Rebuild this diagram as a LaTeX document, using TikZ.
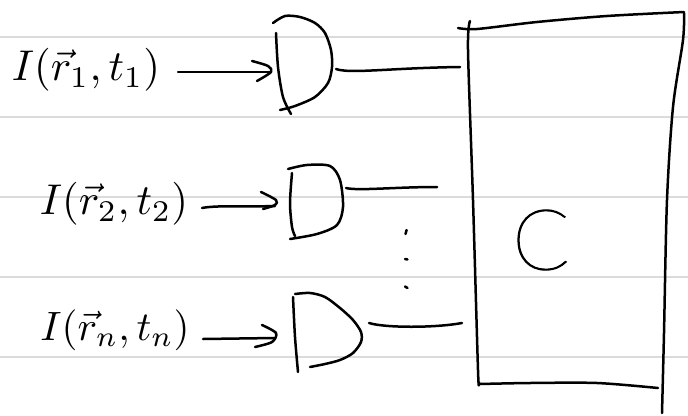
\documentclass[tikz,border=0pt]{standalone}
\usepackage{fontspec}
\newfontfamily\thinfont[FakeBold=1.5,AutoFakeBold=1.5]{Lato Thin}
\tikzset{
  rule/.style={draw=black!14,line width=2pt},
  ink/.style={draw=black,line width=2.5pt,line cap=round,line join=round},
  label/.style={inner sep=0pt},
  bigletter/.style={inner sep=0pt,font=\thinfont\fontsize{84}{84}\selectfont}
}
\begin{document}
\begin{tikzpicture}[x=1pt,y=-1pt]
\useasboundingbox (0,0) rectangle (688,415);
% ruled paper
\foreach \yy in {37,117,197,277,357} \draw[rule] (0,\yy) -- (688,\yy);
% labels
\node[label] (l1) at (86,70) {\scalebox{4.3}{$I(\vec r_1,t_1)$}};
\node[label] (l2) at (114,204) {\scalebox{4.3}{$I(\vec r_2,t_2)$}};
\node[label] (l3) at (115,330) {\scalebox{4.1}{$I(\vec r_n,t_n)$}};
\node[bigletter] (c) at (541,240) {C};
% arrows
\coordinate (a1s) at (178,72);\coordinate (a1e) at (270,72);
\coordinate (a2s) at (202,208);\coordinate (a2e) at (275,206);
\coordinate (a3s) at (203,339);\coordinate (a3e) at (275,338);
\draw[ink] (a1s) -- (a1e);
\draw[ink] plot[smooth] coordinates {(252,61) (268,66) (271,72) (257,81)};
\draw[ink] (a2s) .. controls (217,205) and (250,207) .. (a2e);
\draw[ink] plot[smooth] coordinates {(261,192) (276,200) (275,205) (263,209)};
\draw[ink] (a3s) -- (a3e);
\draw[ink] plot[smooth] coordinates {(262,325) (276,333) (272,342) (255,347)};
% detectors
\draw[ink] plot[smooth] coordinates {(276,33) (278,67) (283,97) (291,114)};
\draw[ink] plot[smooth] coordinates {(273,23) (285,16) (300,17) (315,23) (325,33) (331,50) (332,67) (328,83) (315,97) (295,106) (280,110)};
\draw[ink] plot[smooth] coordinates {(292,173) (290,203) (292,227) (295,236)};
\draw[ink] plot[smooth] coordinates {(288,169) (307,165) (330,166) (340,180) (343,207) (337,225) (317,234) (290,239)};
\draw[ink] plot[smooth] coordinates {(293,297) (295,337) (298,372)};
\draw[ink] plot[smooth] coordinates {(295,294) (310,293) (325,297) (340,308) (353,320) (361,332) (361,342) (353,353) (340,360) (325,364) (310,367)};
% wires
\coordinate (w1s) at (336,69);\coordinate (w1e) at (460,67);
\coordinate (w2s) at (346,188);\coordinate (w2e) at (437,187);
\coordinate (w3s) at (369,323);\coordinate (w3e) at (462,323);
\draw[ink] (w1s) .. controls (350,74) and (390,68) .. (w1e);
\draw[ink] (w2s) .. controls (358,191) and (395,187) .. (w2e);
\draw[ink] (w3s) .. controls (385,328) and (435,328) .. (w3e);
% dots
\draw[ink] (406.6,230) -- (405.5,234);
\draw[ink] (405,259) -- (407.5,259.5);
\draw[ink] (405,286.5) -- (407.5,288);
% big box
\draw[ink] plot[smooth] coordinates {(470,21) (468,50) (473,200) (478,370) (479,382)};
\draw[ink] plot[smooth] coordinates {(458,28) (477,29) (537,22) (607,16) (684,12)};
\draw[ink] plot[smooth] coordinates {(684,13) (683,40) (673,107) (667,200) (664,333) (662,413)};
\draw[ink] plot[smooth] coordinates {(480,384) (530,383) (597,383) (658,388)};
\end{tikzpicture}
\end{document}
